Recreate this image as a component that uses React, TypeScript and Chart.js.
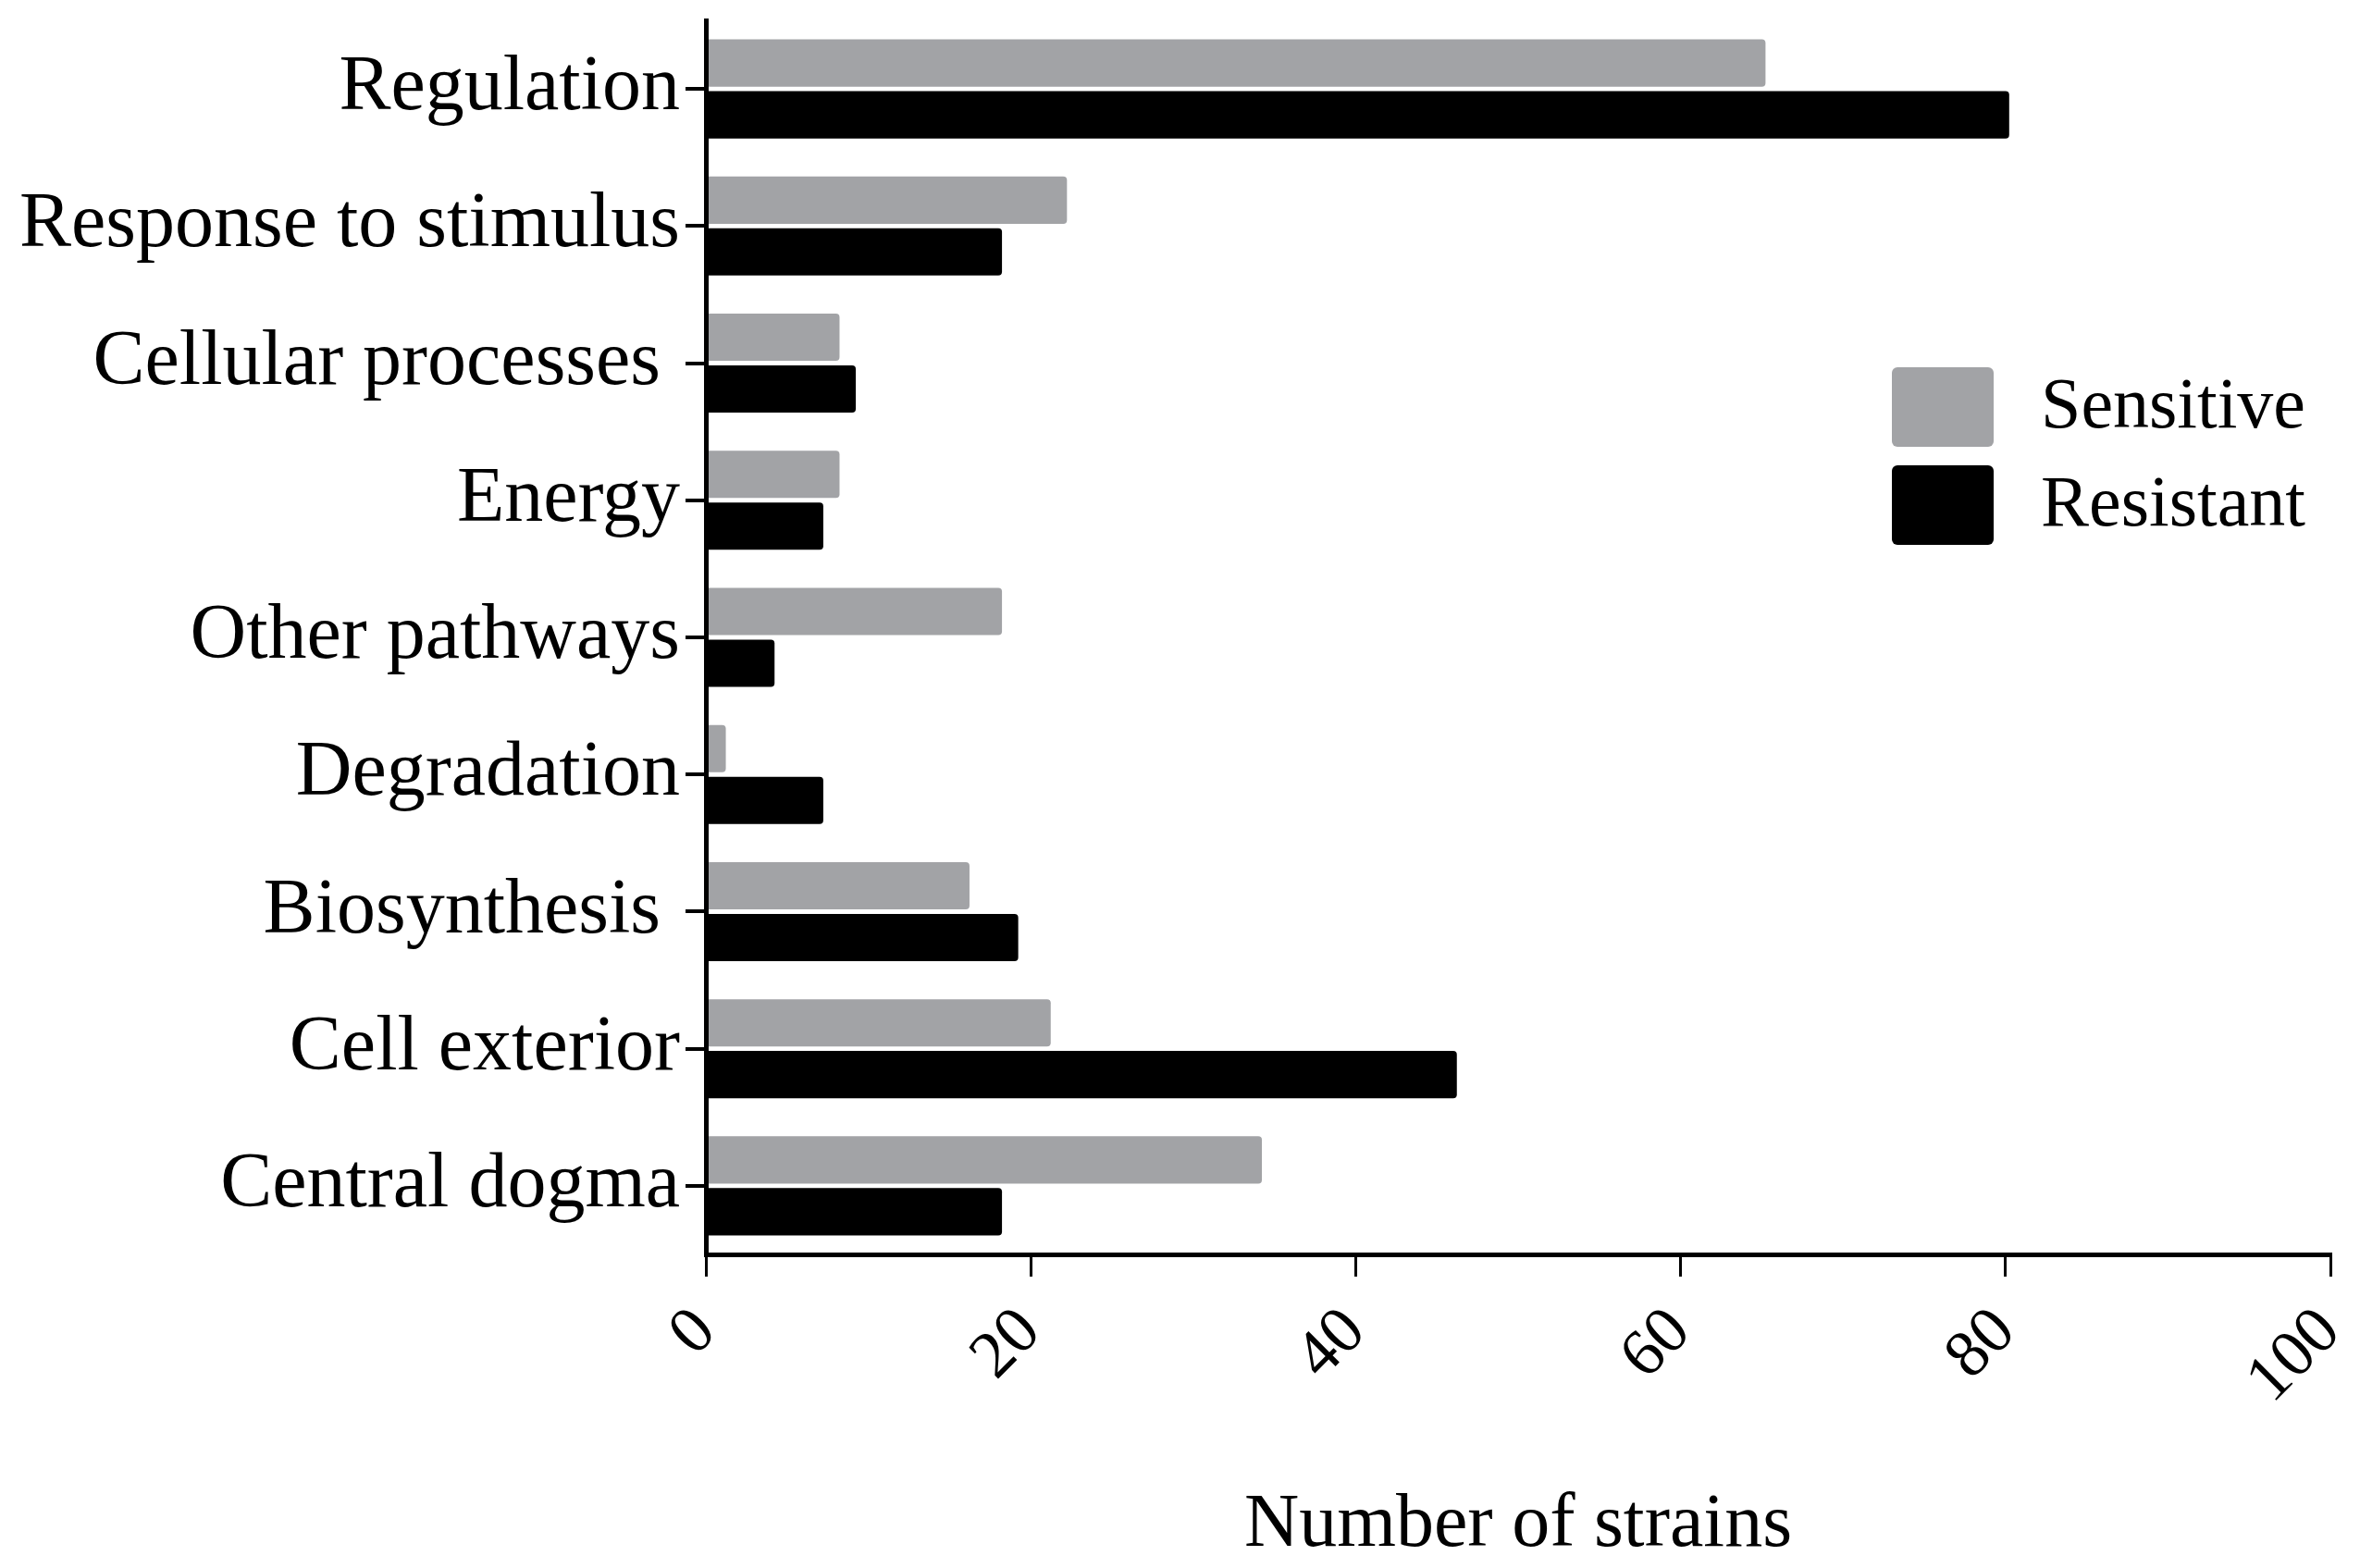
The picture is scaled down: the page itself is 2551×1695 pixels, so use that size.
import React, { useEffect, useRef } from 'react';
import { Chart, registerables } from 'chart.js';

Chart.register(...registerables);

const categories = [
  'Regulation',
  'Response to stimulus',
  'Cellular processes ',
  'Energy',
  'Other pathways',
  'Degradation',
  'Biosynthesis ',
  'Cell exterior',
  'Central dogma',
];
const sensitive = [65, 22, 8, 8, 18, 1, 16, 21, 34];
const resistant = [80, 18, 9, 7, 4, 7, 19, 46, 18];
const xTicks = [0, 20, 40, 60, 80, 100];
const seriesNames = ['Sensitive', 'Resistant'];
const xTitle = 'Number of strains';

const FONT = '"Liberation Serif", "Times New Roman", serif';
const GRAY = '#a2a3a6';
const BLACK = '#000000';

const insideLegend = {
  id: 'insideLegend',
  afterDraw(chart: any) {
    const { ctx, chartArea } = chart;
    const boxW = 110;
    const boxH = 86;
    const pitch = 106;
    const x0 = chartArea.left + 1282;
    const y0 = chartArea.top + 375;
    ctx.save();
    ctx.font = `78px ${FONT}`;
    ctx.textBaseline = 'middle';
    ctx.textAlign = 'left';
    chart.data.datasets.forEach((ds: any, i: number) => {
      const y = y0 + i * pitch;
      ctx.fillStyle = ds.backgroundColor;
      ctx.beginPath();
      ctx.roundRect(x0, y, boxW, boxH, 6);
      ctx.fill();
      ctx.fillStyle = BLACK;
      ctx.fillText(ds.label, x0 + 161, y + boxH / 2 + 2);
    });
    ctx.restore();
  },
};

const zeroPadding = (scale: any) => {
  scale.paddingTop = 0;
  scale.paddingBottom = 0;
  scale.paddingLeft = 0;
  scale.paddingRight = 0;
};

export default function App() {
  const ref = useRef<HTMLCanvasElement | null>(null);

  useEffect(() => {
    document.body.style.margin = '0';
    document.body.style.overflow = 'hidden';
    if (!ref.current) return;
    const barStyle = {
      borderRadius: 4,
      inflateAmount: 4,
      barPercentage: 0.77,
      categoryPercentage: 0.755,
    };
    const chart = new Chart(ref.current, {
      type: 'bar',
      data: {
        labels: categories,
        datasets: [
          {
            label: seriesNames[0],
            data: sensitive,
            backgroundColor: GRAY,
            ...barStyle,
          },
          {
            label: seriesNames[1],
            data: resistant,
            backgroundColor: BLACK,
            ...barStyle,
          },
        ],
      },
      options: {
        indexAxis: 'y',
        responsive: false,
        animation: false,
        devicePixelRatio: 1,
        layout: { padding: { top: 22, right: 32, left: 0, bottom: 0 } },
        plugins: {
          legend: { display: false },
          tooltip: { enabled: false },
        },
        scales: {
          x: {
            type: 'linear',
            min: 0,
            max: 100,
            afterBuildTicks: (scale: any) => {
              scale.ticks = xTicks.map((v) => ({ value: v }));
            },
            ticks: {
              font: { family: FONT, size: 72 },
              color: BLACK,
              minRotation: 45,
              maxRotation: 45,
              padding: 18,
              autoSkip: false,
            },
            grid: {
              drawOnChartArea: false,
              drawTicks: true,
              tickLength: 24,
              lineWidth: 3,
              color: BLACK,
            },
            border: { display: true, width: 5, color: BLACK, z: 1 },
            title: {
              display: true,
              text: xTitle,
              font: { family: FONT, size: 82, lineHeight: 1.0 },
              color: BLACK,
              padding: { top: 0, bottom: 5 },
            },
            afterFit: (scale: any) => {
              scale.height = 339;
              zeroPadding(scale);
            },
          },
          y: {
            type: 'category',
            ticks: {
              font: { family: FONT, size: 84 },
              color: BLACK,
              padding: 6,
              autoSkip: false,
            },
            grid: {
              offset: false,
              drawOnChartArea: false,
              drawTicks: true,
              tickLength: 22,
              lineWidth: 4,
              color: BLACK,
            },
            border: { display: true, width: 5, color: BLACK, z: 1 },
            afterFit: (scale: any) => {
              scale.width = 763;
              zeroPadding(scale);
            },
          },
        },
      } as any,
      plugins: [insideLegend],
    });
    return () => chart.destroy();
  }, []);

  return (
    <canvas
      ref={ref}
      width={2551}
      height={1695}
      style={{ display: 'block', width: 2551, height: 1695 }}
    />
  );
}
